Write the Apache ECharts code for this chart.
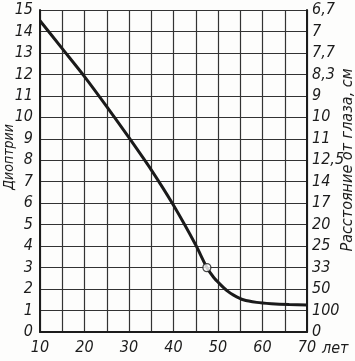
<!DOCTYPE html>
<html><head><meta charset="utf-8">
<script src="https://cdn.jsdelivr.net/npm/echarts@6/dist/echarts.min.js"></script>
<style>html,body{margin:0;padding:0;background:#fdfdfc;}#c{width:355px;height:361px;}</style>
</head><body><div id="c"></div>
<script>
// Age (years) and accommodation (diopters)
const ages = [10, 15, 20, 25, 30, 35, 40, 45, 47.5, 49, 50.5, 52, 53.5, 55.7, 58.7, 62, 66, 70];
const diopters = [14.5, 13.2, 11.9, 10.5, 9.05, 7.55, 5.9, 4.05, 3.0, 2.55, 2.22, 1.93, 1.72, 1.5, 1.38, 1.32, 1.28, 1.26];
const markAge = [47.5];
const markDiopter = [3.0];
const xTicks = [10, 20, 30, 40, 50, 60, 70];
const leftTicks = [0,1,2,3,4,5,6,7,8,9,10,11,12,13,14,15];
const distLabels = ['0','100','50','33','25','20','17','14','12,5','11','10','9','8,3','7,7','7','6,7'];
const leftTitle = 'Диоптрии';
const rightTitle = 'Расстояние от глаза, см';
const xUnit = 'лет';

const font = "'Liberation Sans Narrow','DejaVu Sans Condensed','Liberation Sans',sans-serif";
const ink = '#1c1c1c';
const gridColor = '#333333';

const chart = echarts.init(document.getElementById('c'), null, {renderer:'canvas'});
chart.setOption({
  backgroundColor: '#fdfdfc',
  animation: false,
  grid: {left: 40, right: 48, top: 10, bottom: 29, outerBoundsMode: 'none', containLabel: false},
  graphic: [{
    type: 'text', x: 9, y: 157, rotation: Math.PI / 2,
    style: {text: leftTitle, fill: ink, font: 'italic 14px ' + font, align: 'center', verticalAlign: 'middle'}
  }, {
    type: 'text', x: 348, y: 160, rotation: Math.PI / 2,
    style: {text: rightTitle, fill: ink, font: 'italic 16px ' + font, align: 'center', verticalAlign: 'middle'}
  }],
  xAxis: {
    type: 'value', min: 10, max: 70, interval: 5,
    name: xUnit, nameLocation: 'end', nameGap: 12,
    nameTextStyle: {color: ink, fontStyle: 'italic', fontFamily: font, fontSize: 16, verticalAlign: 'top', padding: [9,0,0,0]},
    axisLine: {show: true, lineStyle: {color: ink, width: 2}},
    axisTick: {show: false},
    axisLabel: {color: ink, fontStyle: 'italic', fontFamily: font, fontSize: 16, margin: 8,
      formatter: v => xTicks.includes(v) ? String(v) : ''},
    splitLine: {show: true, lineStyle: {color: gridColor, width: 1.2}}
  },
  yAxis: [{
    type: 'value', min: 0, max: 15, interval: 1, position: 'left',
    axisLine: {show: true, lineStyle: {color: ink, width: 2}},
    axisTick: {show: false},
    axisLabel: {color: ink, fontStyle: 'italic', fontFamily: font, fontSize: 16, margin: 7,
      formatter: v => leftTicks.includes(v) ? String(v) : ''},
    splitLine: {show: true, lineStyle: {color: gridColor, width: 1.2}}
  }, {
    type: 'value', min: 0, max: 15, interval: 1, position: 'right',
    axisLine: {show: true, lineStyle: {color: ink, width: 2}},
    axisTick: {show: false},
    axisLabel: {color: ink, fontStyle: 'italic', fontFamily: font, fontSize: 16, margin: 5,
      formatter: v => distLabels[Math.round(v)] || ''},
    splitLine: {show: false}
  }],
  series: [{
    type: 'line', smooth: 0.25, showSymbol: false,
    data: ages.map((a, i) => [a, diopters[i]]),
    lineStyle: {color: '#1a1a1a', width: 3}
  }, {
    type: 'scatter', symbol: 'circle', symbolSize: 8,
    data: markAge.map((a, i) => [a, markDiopter[i]]),
    itemStyle: {color: '#ffffff', borderColor: '#1a1a1a', borderWidth: 1.3},
    z: 5
  }]
});
</script></body></html>
